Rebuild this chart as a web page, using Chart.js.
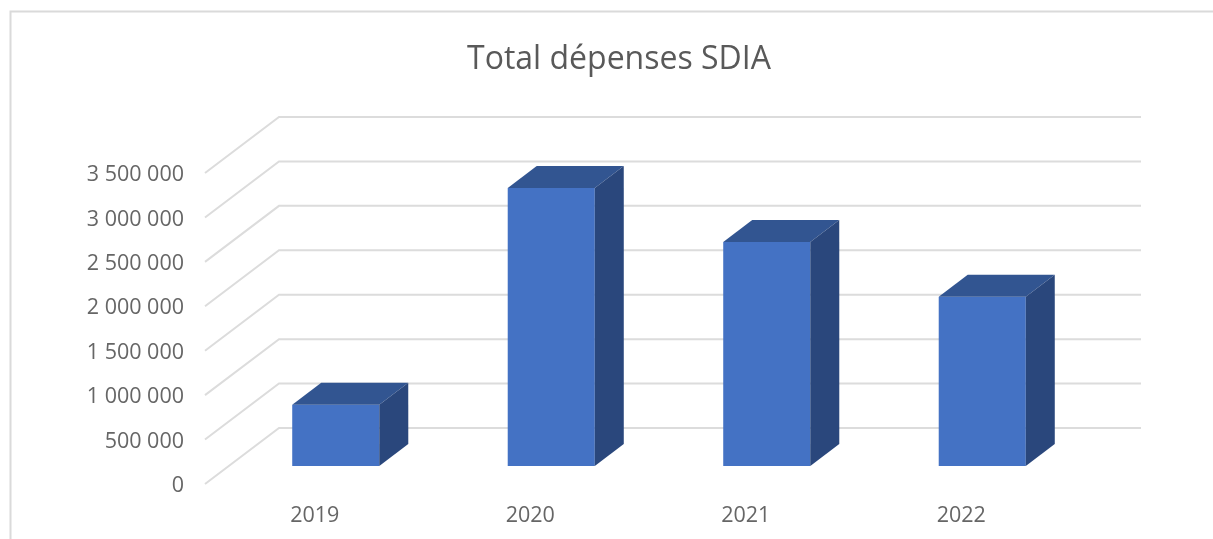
<!DOCTYPE html>
<html>
<head>
<meta charset="utf-8">
<title>Total dépenses SDIA</title>
<script src="https://cdn.jsdelivr.net/npm/chart.js@4/dist/chart.umd.js"></script>
<style>
  html, body { margin: 0; padding: 0; background: #fff; overflow: hidden; }
  canvas { display: block; }
</style>
</head>
<body>
<canvas id="chart" width="1213" height="539"></canvas>
<script>
const years = ['2019', '2020', '2021', '2022'];
const depenses = [690000, 3130000, 2520000, 1905000];
const yTicks = [0, 500000, 1000000, 1500000, 2000000, 2500000, 3000000, 3500000];

const fontFamily = '"Open Sans", sans-serif';
const textColor = '#666666';
const gridColor = '#dcdcdc';

// box depth of the bars, and how far the floor runs in front of / behind them
const depth = { x: 29, y: -22 };
const front = { x: -23, y: 18 };
const back = { x: 51, y: -38 };

function spaced(v) {
    return String(v).replace(/\B(?=(\d{3})+$)/g, ' ');
}

// the frame of the chart: only its top and left edges are visible
const frame = {
    id: 'frame',
    beforeDraw(chart) {
        const ctx = chart.ctx;
        ctx.save();
        ctx.strokeStyle = '#dadada';
        ctx.lineWidth = 2;
        ctx.beginPath();
        ctx.moveTo(10.5, chart.height);
        ctx.lineTo(10.5, 11.5);
        ctx.lineTo(chart.width, 11.5);
        ctx.stroke();
        ctx.restore();
    }
};

// tick labels are clipped to the axis box, so let it reach further left
const wideAxis = {
    id: 'wideAxis',
    afterLayout(chart) {
        chart.scales.y.left = 40;
    }
};

// gridlines run from the front edge up to the back wall, then across it
const wallGrid = {
    id: 'wallGrid',
    beforeDatasetsDraw(chart) {
        const ctx = chart.ctx;
        const { left, right } = chart.chartArea;
        const y = chart.scales.y;
        ctx.save();
        ctx.strokeStyle = gridColor;
        ctx.lineWidth = 2;
        y.ticks.forEach(t => {
            const py = y.getPixelForValue(t.value);
            ctx.beginPath();
            ctx.moveTo(left + front.x, py + front.y);
            ctx.lineTo(left + back.x, py + back.y);
            ctx.lineTo(right + back.x, py + back.y);
            ctx.stroke();
        });
        ctx.restore();
    }
};

// top and side faces of each column, taken from the bar element
const boxFaces = {
    id: 'boxFaces',
    afterDatasetsDraw(chart) {
        const ctx = chart.ctx;
        ctx.save();
        chart.getDatasetMeta(0).data.forEach(bar => {
            const r = bar.x + bar.width / 2;
            const l = bar.x - bar.width / 2;
            ctx.fillStyle = '#325591';
            ctx.beginPath();
            ctx.moveTo(l, bar.y);
            ctx.lineTo(l + depth.x, bar.y + depth.y);
            ctx.lineTo(r + depth.x, bar.y + depth.y);
            ctx.lineTo(r, bar.y);
            ctx.closePath();
            ctx.fill();
            ctx.fillStyle = '#2a477c';
            ctx.beginPath();
            ctx.moveTo(r, bar.y);
            ctx.lineTo(r + depth.x, bar.y + depth.y);
            ctx.lineTo(r + depth.x, bar.base + depth.y);
            ctx.lineTo(r, bar.base);
            ctx.closePath();
            ctx.fill();
        });
        ctx.restore();
    }
};

new Chart(document.getElementById('chart'), {
    type: 'bar',
    plugins: [frame, wideAxis, wallGrid, boxFaces],
    data: {
        labels: years,
        datasets: [{
            data: depenses,
            backgroundColor: '#4472c4',
            borderWidth: 0,
            categoryPercentage: 1,
            barPercentage: 0.404
        }]
    },
    options: {
        responsive: false,
        animation: false,
        layout: { padding: { left: 148, right: 123, top: 0, bottom: 0 } },
        plugins: {
            legend: { display: false },
            tooltip: { enabled: false },
            title: {
                display: true,
                text: 'Total dépenses SDIA',
                color: '#595959',
                font: { family: fontFamily, size: 32, weight: 'normal', lineHeight: 1.2 },
                padding: { top: 41, bottom: 75.6 }
            }
        },
        scales: {
            x: {
                grid: { display: false },
                border: { display: false },
                afterFit(scale) { scale.height = 73; },
                ticks: {
                    color: textColor,
                    font: { family: fontFamily, size: 21.5 },
                    padding: 29,
                    labelOffset: -21,
                    maxRotation: 0
                }
            },
            y: {
                min: 0,
                max: 3500000,
                grid: { display: false, drawTicks: false },
                border: { display: false },
                afterFit(scale) { scale.width = 80; },
                afterBuildTicks(scale) { scale.ticks = yTicks.map(value => ({ value })); },
                ticks: {
                    color: textColor,
                    font: { family: fontFamily, size: 21.5 },
                    padding: 44,
                    labelOffset: 20,
                    callback: spaced
                }
            }
        }
    }
});
</script>
</body>
</html>
